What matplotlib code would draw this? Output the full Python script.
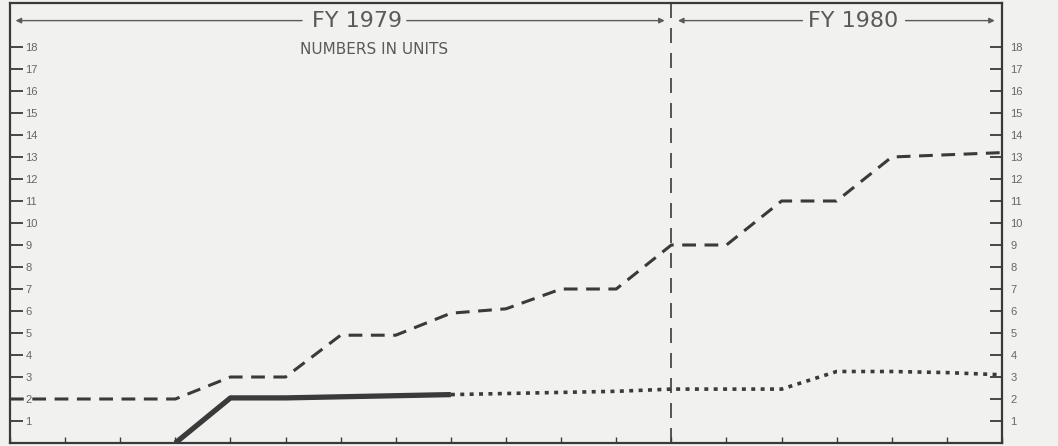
import numpy as np
import matplotlib
matplotlib.use("Agg")
import matplotlib.pyplot as plt

# months from start of FY 1979 (0) to mid FY 1980 (18)
months = list(range(19))
dashed_vals = [2, 2, 2, 2, 3, 3, 4.9, 4.9, 5.9, 6.1, 7, 7, 9, 9, 11, 11, 13, 13.1, 13.2]
solid_months = [3, 4, 5, 6, 7, 8]
solid_vals = [0, 2.05, 2.05, 2.1, 2.15, 2.2]
dotted_months = [8, 9, 10, 11, 12, 13, 14, 15, 16, 17, 18]
dotted_vals = [2.2, 2.25, 2.3, 2.35, 2.45, 2.45, 2.45, 3.25, 3.25, 3.2, 3.1]
y_ticks = list(range(1, 19))
fy_labels = ["FY 1979", "FY 1980"]
fy_split = 12

bg = "#f1f1ef"
ink = "#3a3a3a"
grey = "#5a5a5a"

plt.rcParams["font.family"] = ["Liberation Sans", "DejaVu Sans"]

fig = plt.figure(figsize=(10.58, 4.46), dpi=100, facecolor=bg)
ax = fig.add_axes([10 / 1058, 3 / 446, 992 / 1058, 440 / 446])
ax.set_facecolor(bg)
ax.set_xlim(0, 18)
ax.set_ylim(0, 20)

ax.plot(months, dashed_vals, color=ink, lw=2.2, dashes=(4.5, 2.8), solid_capstyle="butt")
ax.plot(solid_months, solid_vals, color=ink, lw=3.8, solid_capstyle="butt")
ax.plot(dotted_months, dotted_vals, color=ink, lw=2.6, dashes=(1.1, 1.5))

# divider between fiscal years
ax.axvline(fy_split, color=ink, lw=1.2, dashes=(9, 6))

# header arrows
hy = 19.2
ax.text(6.3, hy, fy_labels[0], ha="center", va="center", fontsize=16, color=grey,
        family="DejaVu Sans")
ax.text(15.3, hy, fy_labels[1], ha="center", va="center", fontsize=16, color=grey,
        family="DejaVu Sans")
arrow = dict(arrowstyle="-|>", color=grey, lw=1.0, mutation_scale=8)
ax.annotate("", xy=(0.05, hy), xytext=(5.35, hy), arrowprops=arrow)
ax.annotate("", xy=(fy_split - 0.07, hy), xytext=(7.15, hy), arrowprops=arrow)
ax.annotate("", xy=(fy_split + 0.07, hy), xytext=(14.43, hy), arrowprops=arrow)
ax.annotate("", xy=(17.92, hy), xytext=(16.2, hy), arrowprops=arrow)

ax.text(6.6, 17.9, "NUMBERS IN UNITS", ha="center", va="center", fontsize=11,
        color=grey, family="DejaVu Sans")

# left ticks with labels inside the frame
ax.set_yticks(y_ticks)
ax.tick_params(axis="y", which="both", direction="in", length=9, width=1.3,
               color=ink, labelsize=8, labelcolor="#666666", left=True, right=True,
               labelleft=True, labelright=False, pad=-11)
for lab in ax.get_yticklabels():
    lab.set_horizontalalignment("left")
# right side labels outside
sec = ax.secondary_yaxis("right")
sec.set_yticks(y_ticks)
sec.tick_params(axis="y", length=0, pad=6, labelsize=8, labelcolor="#666666")

ax.set_xticks(months)
ax.tick_params(axis="x", direction="in", length=4, width=1.0, color=ink,
               labelbottom=False)

for side in ["left", "right", "top", "bottom"]:
    ax.spines[side].set_color(ink)
    ax.spines[side].set_linewidth(1.6)
sec.spines["right"].set_visible(False)

fig.savefig("out.png", dpi=100, facecolor=bg)
